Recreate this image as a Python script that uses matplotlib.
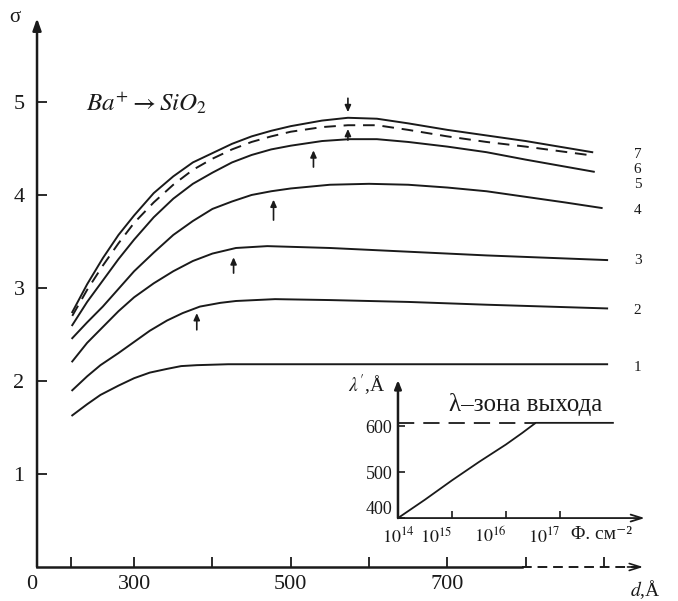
import numpy as np
import matplotlib.pyplot as plt

plt.rcParams['font.family'] = ['Liberation Serif', 'DejaVu Serif']
plt.rcParams['mathtext.fontset'] = 'stix'

# sigma vs d, curves 1..7
d1 = [221, 240, 257, 280, 300, 320, 342, 360, 380, 420, 450, 600, 750, 904]
s1 = [1.63, 1.75, 1.85, 1.95, 2.03, 2.09, 2.13, 2.16, 2.17, 2.18, 2.18, 2.18, 2.18, 2.18]
d2 = [221, 240, 257, 280, 300, 320, 342, 362, 384, 410, 430, 480, 550, 650, 750, 904]
s2 = [1.90, 2.05, 2.17, 2.30, 2.42, 2.54, 2.65, 2.73, 2.80, 2.84, 2.86, 2.88, 2.87, 2.85, 2.82, 2.78]
d3 = [221, 240, 260, 280, 300, 325, 350, 375, 400, 430, 470, 550, 650, 750, 904]
s3 = [2.21, 2.41, 2.58, 2.75, 2.90, 3.05, 3.18, 3.29, 3.37, 3.43, 3.45, 3.43, 3.39, 3.35, 3.30]
d4 = [221, 240, 260, 280, 300, 325, 350, 375, 400, 425, 450, 475, 500, 550, 600, 650, 700, 750, 800, 850, 897]
s4 = [2.46, 2.63, 2.80, 2.99, 3.18, 3.38, 3.57, 3.72, 3.85, 3.93, 4.00, 4.04, 4.07, 4.11, 4.12, 4.11,
      4.08, 4.04, 3.98, 3.92, 3.86]
d5 = [221, 240, 260, 280, 300, 325, 350, 375, 400, 425, 450, 475, 500, 540, 575, 610, 650, 700, 750, 800, 887]
s5 = [2.60, 2.85, 3.08, 3.31, 3.52, 3.76, 3.96, 4.12, 4.24, 4.35, 4.43, 4.49, 4.53, 4.58, 4.60, 4.60,
      4.57, 4.52, 4.46, 4.38, 4.25]
d6 = [221, 240, 260, 280, 300, 325, 350, 375, 400, 425, 450, 475, 500, 540, 573, 610, 650, 700, 750, 800, 880]
s6 = [2.70, 2.98, 3.24, 3.48, 3.70, 3.92, 4.11, 4.27, 4.39, 4.49, 4.57, 4.63, 4.68, 4.73, 4.75, 4.75,
      4.70, 4.63, 4.57, 4.52, 4.43]
d7 = [221, 240, 260, 280, 300, 325, 350, 375, 400, 425, 450, 475, 500, 540, 573, 610, 650, 700, 750, 800, 885]
s7 = [2.74, 3.04, 3.32, 3.57, 3.78, 4.02, 4.20, 4.35, 4.45, 4.55, 4.63, 4.69, 4.74, 4.80, 4.83, 4.82,
      4.77, 4.70, 4.64, 4.58, 4.46]

curve_names = ['1', '2', '3', '4', '5', '6', '7']
label_sigma = [2.14, 2.76, 3.30, 3.83, 4.11, 4.27, 4.43]

# maximum markers: d, tail sigma, head sigma
arrow_d = [380, 427, 478, 529, 573, 573]
arrow_tail = [2.55, 3.16, 3.73, 4.30, 4.59, 5.04]
arrow_head = [2.73, 3.33, 3.95, 4.48, 4.71, 4.89]

x_ticks = [220, 300, 400, 500, 600, 700, 800, 900]
x_labels = ['', '300', '', '500', '', '700', '', '']
y_ticks = [1, 2, 3, 4, 5]

# inset: lambda' vs fluence
phi_exp = [14.0, 14.25, 14.5, 14.75, 15.0, 15.25, 15.5, 15.75, 16.0, 16.3, 16.55, 17.0, 17.5, 17.98]
lam = [400, 420, 440, 461, 482, 502, 522, 541, 560, 585, 607, 607, 607, 607]
phi = 10.0 ** np.array(phi_exp)
lam_zone = 607

col = '#1a1a1a'

fig = plt.figure(figsize=(6.78, 6.01), dpi=100)
ax = fig.add_axes([0.0546, 0.0566, 0.894, 0.913])
ax.set_xlim(176, 950)
ax.set_ylim(0, 5.9)
for s in ax.spines.values():
    s.set_visible(False)

curves = [(d1, s1, '-'), (d2, s2, '-'), (d3, s3, '-'), (d4, s4, '-'),
          (d5, s5, '-'), (d6, s6, (0, (6, 4))), (d7, s7, '-')]
for (d, s, ls), name, ly in zip(curves, curve_names, label_sigma):
    ax.plot(d, s, color=col, lw=1.4, ls=ls, solid_joinstyle='round')
    ax.text(943, ly, name, fontsize=11, ha='center', va='center', color=col)

for xd, t, h in zip(arrow_d, arrow_tail, arrow_head):
    ax.annotate('', xy=(xd, h), xytext=(xd, t),
                arrowprops=dict(arrowstyle='-|>,head_width=0.18,head_length=0.4',
                                color=col, lw=1.2, shrinkA=0, shrinkB=0))

# axes lines
ax.annotate('', xy=(0, 1), xytext=(0, 0), xycoords='axes fraction',
            arrowprops=dict(arrowstyle='-|>,head_width=0.25,head_length=0.7',
                            color=col, lw=1.8, shrinkA=0, shrinkB=0))
ax.plot([176, 795], [0, 0], color=col, lw=1.8, clip_on=False)
ax.plot([795, 945], [0, 0], color=col, lw=1.4, ls=(0, (5, 3)), clip_on=False)
ax.annotate('', xy=(950, 0), xytext=(930, 0),
            arrowprops=dict(arrowstyle='->,head_width=0.25,head_length=0.8',
                            color=col, lw=1.2, shrinkA=0, shrinkB=0),
            annotation_clip=False)

ax.set_xticks([176] + x_ticks)
ax.set_xticklabels(['0'] + x_labels)
ax.set_yticks(y_ticks)
ax.tick_params(axis='both', direction='in', length=7, width=1.3, colors=col,
               labelsize=16, pad=6)
ax.tick_params(axis='y', pad=9)
ax.get_xticklabels()[0].set_ha('right')

ax.text(238, 4.99, r'$Ba^{+}\rightarrow SiO_{2}$', fontsize=18, va='center', color=col)
fig.text(15 / 678, 1 - 18 / 601, 'σ', fontsize=15, ha='center', va='center', color=col)
fig.text(645 / 678, 1 - 590 / 601, r'$d$,Å', fontsize=14, ha='center', va='center', color=col)

# inset
ins = fig.add_axes([0.587, 0.138, 0.364, 0.2296])
ins.set_xscale('log')
ins.set_xlim(1e14, 10 ** 18.57)
ins.set_ylim(400, 700)
for s in ins.spines.values():
    s.set_visible(False)
ins.patch.set_alpha(0)
ins.plot(phi, lam, color=col, lw=1.3)
ins.plot([1e14, phi[10]], [lam_zone, lam_zone], color=col, lw=1.3, ls=(0, (9, 5)))
ins.annotate('', xy=(0, 1), xytext=(0, 0), xycoords='axes fraction',
             arrowprops=dict(arrowstyle='-|>,head_width=0.2,head_length=0.5',
                             color=col, lw=1.8, shrinkA=0, shrinkB=0))
ins.annotate('', xy=(1, 0), xytext=(0, 0), xycoords='axes fraction',
             arrowprops=dict(arrowstyle='->,head_width=0.25,head_length=0.8',
                             color=col, lw=1.3, shrinkA=0, shrinkB=0))
ins.set_xticks([1e14, 1e15, 1e16, 1e17])
ins.set_xticklabels([r'$10^{14}$', r'$10^{15}$', r'$10^{16}$', r'$10^{17}$'])
ins.minorticks_off()
ins.set_yticks([400, 500, 600])
ins.tick_params(axis='both', direction='in', length=5, width=1.2, colors=col,
                labelsize=13, pad=4)
ins.tick_params(axis='x', pad=6)
for lb in ins.get_xticklabels()[1:]:
    lb.set_ha('right')
ins.get_yticklabels()[0].set_va('bottom')
ins.text(10 ** 17.2, -0.12, 'Φ. см⁻²', transform=ins.get_xaxis_transform(),
         fontsize=14, ha='left', va='center', color=col)
ins.text(10 ** 14.95, 0.82, 'λ–зона выхода', transform=ins.get_xaxis_transform(),
         fontsize=18, ha='left', va='center', color=col)
fig.text(367 / 678, 1 - 385 / 601, r"$\lambda'$,Å", fontsize=14, ha='center',
         va='center', color=col)

fig.savefig('out.png', dpi=100, facecolor='white')
